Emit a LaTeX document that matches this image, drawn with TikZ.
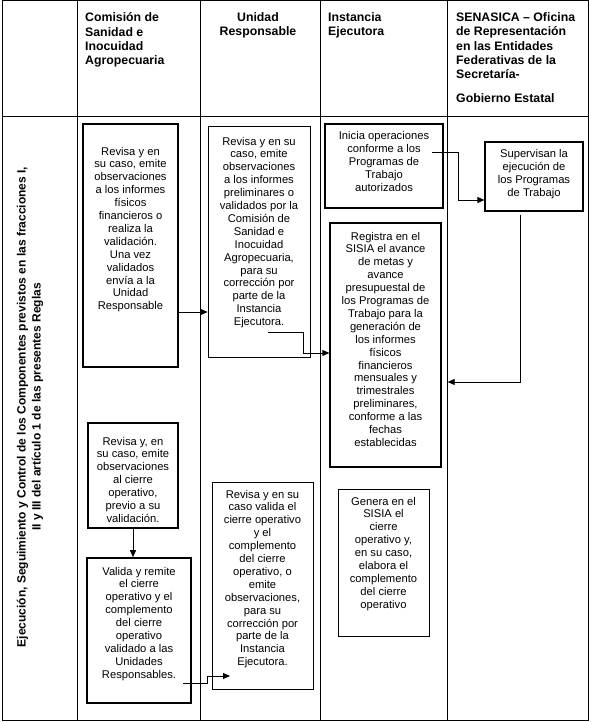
\documentclass[tikz,border=0pt]{standalone}
\usepackage{fontspec}
\setmainfont{Liberation Sans}
\usetikzlibrary{arrows.meta}

\newcommand{\cuerpo}{\fontsize{11.2}{12.9}\selectfont}
\newcommand{\titulo}{\fontsize{12.3}{14.3}\selectfont\bfseries}
% box text: width, height, first baseline from the top, lines
\newcommand{\caja}[4]{\parbox[c][#2][t]{#1}{\centering\rule{0pt}{#3}#4}}

\begin{document}
\begin{tikzpicture}[x=1pt,y=-1pt,
    linea/.style={line width=0.9pt},
    paso/.style={draw,line width=1.6pt,inner sep=0pt,font=\cuerpo},
    pasofino/.style={paso,line width=0.8pt},
    cabeza/.style={font=\titulo,inner sep=0pt,anchor=north west,align=left},
    flecha/.style={line width=0.8pt,-{Triangle[length=7pt,width=6pt]}}]
  \useasboundingbox (0,0) rectangle (590,722);
  % --- table ---
  \draw[linea] (2,0.5) rectangle (588,720);
  \draw[linea] (2,116) -- (588,116);
  \foreach \x in {77,200,320,447} \draw[linea] (\x,0.5) -- (\x,720);
  % --- headers ---
  \node[cabeza] (hcsia) at (85,12.5) {Comisión de\\Sanidad e\\Inocuidad\\Agropecuaria};
  \node[cabeza,anchor=north,align=center] (hur) at (258,12.5) {Unidad\\Responsable};
  \node[cabeza] (hie) at (328,12.5) {Instancia\\Ejecutora};
  \node[cabeza] (hsen) at (456,12.5) {SENASICA – Oficina\\de Representación\\en las Entidades\\Federativas de la\\Secretaría-\\[9.5pt]Gobierno Estatal};
  \node[rotate=90,align=center,inner sep=0pt,font=\fontsize{12}{15}\selectfont\bfseries] (tema) at (30,407)
    {Ejecución, Seguimiento y Control de los Componentes previstos en las fracciones I,\\
     II y III del artículo 1 de las presentes Reglas};
  % --- steps ---
  \node[paso] (csia1) at (130.5,245.5) {\caja{95pt}{243pt}{31pt}{Revisa y en\\su caso, emite\\observaciones\\a los informes\\físicos\\financieros o\\realiza la\\validación.\\Una vez\\validados\\envía a la\\Unidad\\Responsable}};
  \node[pasofino] (ur1) at (259,241.5) {\caja{102pt}{231pt}{19pt}{Revisa y en su\\caso, emite\\observaciones\\a los informes\\preliminares o\\validados por la\\Comisión de\\Sanidad e\\Inocuidad\\Agropecuaria,\\para su\\corrección por\\parte de la\\Instancia\\Ejecutora.}};
  \node[paso] (inicia) at (384,166) {\caja{118pt}{84pt}{16pt}{Inicia operaciones\\conforme a los\\Programas de\\Trabajo\\autorizados}};
  \node[paso,line width=1.2pt] (supervisan) at (534,176.5) {\caja{98pt}{69pt}{15.5pt}{Supervisan la\\ejecución de\\los Programas\\de Trabajo}};
  \node[paso,line width=1.3pt] (registra) at (385.5,345) {\caja{111pt}{244pt}{17pt}{Registra en el\\SISIA el avance\\de metas y\\avance\\presupuestal de\\los Programas de\\Trabajo para la\\generación de\\los informes\\físicos\\financieros\\mensuales y\\trimestrales\\preliminares,\\conforme a las\\fechas\\establecidas}};
  \node[paso] (csia2) at (133,475.5) {\caja{90pt}{105pt}{22pt}{Revisa y, en\\su caso, emite\\observaciones\\al cierre\\operativo,\\previo a su\\validación.}};
  \node[paso] (csia3) at (139,630.5) {\caja{104pt}{145pt}{17pt}{Valida y remite\\el cierre\\operativo y el\\complemento\\del cierre\\operativo\\validado a las\\Unidades\\Responsables.}};
  \node[pasofino] (ur2) at (262.5,585.5) {\caja{101pt}{207pt}{16pt}{Revisa y en su\\caso valida el\\cierre operativo\\y el\\complemento\\del cierre\\operativo, o\\emite\\observaciones,\\para su\\corrección por\\parte de la\\Instancia\\Ejecutora.}};
  \node[pasofino] (genera) at (383.5,562.5) {\caja{91pt}{147pt}{16pt}{Genera en el\\SISIA el\\cierre\\operativo y,\\en su caso,\\elabora el\\complemento\\del cierre\\operativo}};
  % --- connectors ---
  \coordinate (c1) at ([yshift=-66.5pt]csia1.east);
  \draw[flecha] (c1) -- (c1 -| ur1.west);
  \coordinate (c2) at (268,332);
  \coordinate (c2b) at (303,353);
  \draw[flecha] (c2) -| (c2b) -- (c2b -| registra.west);
  \coordinate (c3) at (432,152);
  \coordinate (c3b) at (458,200);
  \draw[flecha] (c3) -| (c3b) -- (c3b -| supervisan.west);
  \coordinate (c4) at (520,382);
  \draw[flecha,shorten >=6pt] ([yshift=-3pt]supervisan.south -| c4) -- (c4) -- (c4 -| registra.east);
  \draw[flecha] (csia2.south) -- (csia2.south |- csia3.north);
  \coordinate (c6) at (183,683);
  \coordinate (c6b) at (207,676);
  \coordinate (c6c) at (230,676);
  \draw[flecha] (c6) -| (c6b) -- (c6c);
\end{tikzpicture}
\end{document}
